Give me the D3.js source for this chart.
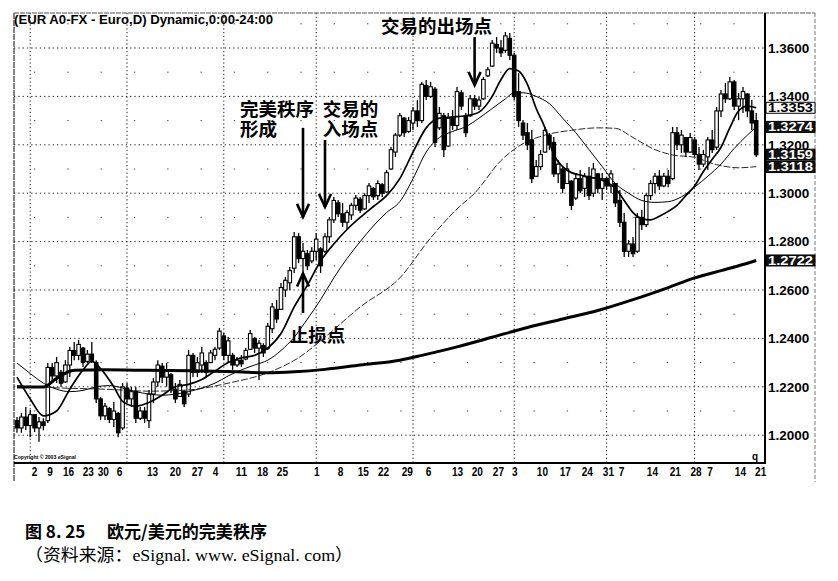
<!DOCTYPE html>
<html><head><meta charset="utf-8">
<script src="https://cdn.jsdelivr.net/npm/d3@7"></script>
<style>
body{margin:0;background:#fff;}
svg{display:block;}
</style></head>
<body>
<svg id="c" width="838" height="581"></svg>
<script>
// ---- daily EUR/USD bars (Jul 28 2004 .. Mar 18 2005) ----
const opens = [1.2060,1.2030,1.2075,1.2040,1.2085,1.2030,1.2055,1.2060,1.2280,1.2245,
1.2260,1.2220,1.2290,1.2350,1.2330,1.2360,1.2305,1.2335,1.2300,1.2150,
1.2080,1.2110,1.2065,1.2090,1.2030,1.2195,1.2150,1.2180,1.2070,1.2100,
1.2060,1.2170,1.2220,1.2285,1.2240,1.2250,1.2190,1.2160,1.2180,1.2170,
1.2330,1.2260,1.2290,1.2300,1.2300,1.2330,1.2360,1.2410,1.2330,1.2330,
1.2290,1.2310,1.2315,1.2355,1.2400,1.2360,1.2370,1.2360,1.2440,1.2520,
1.2520,1.2600,1.2630,1.2690,1.2820,1.2730,1.2750,1.2720,1.2760,1.2770,
1.2760,1.2820,1.2890,1.2960,1.2915,1.2880,1.2910,1.2950,1.2975,1.2935,
1.2990,1.3020,1.2990,1.3035,1.3005,1.3100,1.3170,1.3240,1.3310,1.3255,
1.3290,1.3340,1.3300,1.3445,1.3400,1.3430,1.3270,1.3320,1.3195,1.3310,
1.3280,1.3415,1.3320,1.3320,1.3390,1.3360,1.3390,1.3485,1.3525,1.3615,
1.3600,1.3590,1.3640,1.3570,1.3420,1.3290,1.3250,1.3220,1.3070,1.3110,
1.3170,1.3240,1.3210,1.3080,1.3100,1.3040,1.3050,1.2980,1.3060,1.3020,
1.3070,1.3000,1.3080,1.3020,1.3060,1.3030,1.3040,1.2970,1.2880,1.2760,
1.2790,1.2760,1.2900,1.2870,1.2990,1.3040,1.3070,1.3030,1.3070,1.3060,
1.3250,1.3200,1.3230,1.3170,1.3220,1.3160,1.3120,1.3150,1.3220,1.3190,
1.3340,1.3410,1.3390,1.3460,1.3360,1.3390,1.3410,1.3340,1.3300];
const highs = [1.2075,1.2092,1.2117,1.2104,1.2083,1.2075,1.2070,1.2298,1.2298,1.2323,
1.2270,1.2310,1.2364,1.2385,1.2393,1.2364,1.2352,1.2385,1.2310,1.2158,
1.2133,1.2117,1.2137,1.2096,1.2216,1.2216,1.2200,1.2200,1.2117,1.2117,
1.2187,1.2236,1.2310,1.2298,1.2298,1.2257,1.2216,1.2228,1.2187,1.2352,
1.2340,1.2323,1.2364,1.2310,1.2352,1.2364,1.2443,1.2422,1.2406,1.2340,
1.2323,1.2331,1.2360,1.2435,1.2406,1.2393,1.2380,1.2464,1.2546,1.2559,
1.2629,1.2653,1.2695,1.2840,1.2835,1.2794,1.2765,1.2777,1.2835,1.2777,
1.2835,1.2902,1.2984,1.2972,1.2960,1.2931,1.2960,1.2993,1.2984,1.3000,
1.3042,1.3025,1.3054,1.3042,1.3096,1.3191,1.3249,1.3331,1.3315,1.3315,
1.3356,1.3385,1.3460,1.3468,1.3460,1.3439,1.3356,1.3331,1.3331,1.3344,
1.3439,1.3426,1.3331,1.3406,1.3406,1.3398,1.3480,1.3521,1.3633,1.3645,
1.3633,1.3666,1.3662,1.3580,1.3497,1.3302,1.3290,1.3261,1.3137,1.3179,
1.3274,1.3249,1.3232,1.3137,1.3108,1.3125,1.3054,1.3083,1.3096,1.3083,
1.3108,1.3125,1.3083,1.3083,1.3067,1.3096,1.3042,1.3013,1.2918,1.2806,
1.2819,1.2918,1.2931,1.3000,1.3054,1.3083,1.3096,1.3083,1.3096,1.3274,
1.3274,1.3261,1.3232,1.3249,1.3232,1.3191,1.3179,1.3232,1.3261,1.3356,
1.3426,1.3455,1.3480,1.3468,1.3414,1.3439,1.3414,1.3385,1.3331];
const lows = [1.2010,1.2010,1.2021,1.1992,1.2013,1.1973,1.2020,1.2050,1.2228,1.2216,
1.2200,1.2216,1.2240,1.2310,1.2310,1.2282,1.2298,1.2298,1.2133,1.2063,
1.2063,1.2050,1.2034,1.1992,1.2021,1.2133,1.2117,1.2050,1.2063,1.2050,
1.2030,1.2133,1.2200,1.2216,1.2200,1.2174,1.2133,1.2158,1.2117,1.2158,
1.2240,1.2240,1.2257,1.2240,1.2298,1.2310,1.2352,1.2310,1.2298,1.2270,
1.2282,1.2282,1.2310,1.2352,1.2340,1.2228,1.2323,1.2352,1.2422,1.2464,
1.2517,1.2571,1.2600,1.2670,1.2711,1.2505,1.2682,1.2711,1.2724,1.2670,
1.2753,1.2794,1.2877,1.2902,1.2860,1.2848,1.2890,1.2931,1.2918,1.2931,
1.2960,1.2972,1.2972,1.2984,1.3000,1.3096,1.3150,1.3232,1.3232,1.3249,
1.3261,1.3274,1.3290,1.3385,1.3393,1.3191,1.3261,1.3150,1.3191,1.3261,
1.3261,1.3344,1.3232,1.3315,1.3344,1.3344,1.3385,1.3480,1.3521,1.3580,
1.3563,1.3580,1.3550,1.3385,1.3274,1.3220,1.3179,1.3042,1.3067,1.3096,
1.3166,1.3179,1.3067,1.3042,1.3000,1.3054,1.2931,1.2972,1.3000,1.2984,
1.2972,1.2984,1.3000,1.2972,1.3013,1.3000,1.2943,1.2860,1.2736,1.2736,
1.2736,1.2753,1.2848,1.2860,1.2972,1.3000,1.3013,1.3025,1.3025,1.3054,
1.3179,1.3166,1.3150,1.3166,1.3150,1.3096,1.3108,1.3096,1.3166,1.3179,
1.3315,1.3373,1.3385,1.3344,1.3302,1.3331,1.3315,1.3261,1.3150];
const closes = [1.2030,1.2075,1.2040,1.2085,1.2030,1.2055,1.2040,1.2280,1.2245,1.2300,
1.2215,1.2290,1.2350,1.2330,1.2375,1.2300,1.2335,1.2310,1.2150,1.2080,
1.2120,1.2065,1.2100,1.2010,1.2200,1.2150,1.2180,1.2070,1.2100,1.2070,
1.2170,1.2220,1.2290,1.2240,1.2270,1.2190,1.2150,1.2210,1.2130,1.2330,
1.2260,1.2300,1.2340,1.2260,1.2340,1.2355,1.2430,1.2330,1.2390,1.2290,
1.2310,1.2295,1.2350,1.2420,1.2360,1.2380,1.2340,1.2450,1.2530,1.2480,
1.2610,1.2640,1.2680,1.2820,1.2730,1.2760,1.2700,1.2760,1.2810,1.2700,
1.2820,1.2890,1.2970,1.2915,1.2880,1.2920,1.2950,1.2980,1.2930,1.2990,
1.3030,1.2985,1.3040,1.3000,1.3085,1.3180,1.3240,1.3320,1.3250,1.3300,
1.3340,1.3300,1.3450,1.3400,1.3440,1.3210,1.3330,1.3180,1.3310,1.3280,
1.3420,1.3360,1.3250,1.3390,1.3360,1.3385,1.3470,1.3510,1.3620,1.3600,
1.3580,1.3650,1.3570,1.3400,1.3300,1.3240,1.3200,1.3060,1.3110,1.3160,
1.3260,1.3200,1.3080,1.3120,1.3020,1.3100,1.2950,1.3060,1.3010,1.3070,
1.2990,1.3100,1.3020,1.3060,1.3030,1.3080,1.2960,1.2880,1.2760,1.2790,
1.2750,1.2900,1.2870,1.2990,1.3040,1.3070,1.3030,1.3070,1.3040,1.3250,
1.3200,1.3240,1.3170,1.3230,1.3160,1.3120,1.3160,1.3220,1.3180,1.3340,
1.3410,1.3390,1.3460,1.3360,1.3390,1.3420,1.3340,1.3290,1.3159];

// ---- moving averages: [bar index, value] ----
const ma10 = [[0,1.2240],[3,1.2150],[6,1.2080],[9,1.2100],[12,1.2190],[15,1.2270],[17,1.2305],[19,1.2275],[22,1.2200],[24,1.2140],[27,1.2120],[30,1.2135],[33,1.2165],[36,1.2200],[39,1.2210],[42,1.2230],[45,1.2265],[48,1.2300],[51,1.2320],[54,1.2330],[57,1.2360],[60,1.2420],[63,1.2530],[66,1.2620],[69,1.2720],[72,1.2790],[75,1.2850],[78,1.2900],[81,1.2945],[84,1.2990],[87,1.3060],[90,1.3170],[93,1.3270],[96,1.3310],[99,1.3315],[102,1.3320],[105,1.3335],[108,1.3400],[110,1.3470],[112,1.3515],[114,1.3505],[116,1.3450],[118,1.3350],[120,1.3270],[122,1.3160],[124,1.3110],[126,1.3085],[128,1.3075],[130,1.3065],[132,1.3060],[134,1.3045],[136,1.3020],[138,1.2970],[140,1.2920],[142,1.2895],[144,1.2890],[146,1.2905],[148,1.2925],[150,1.2950],[152,1.2990],[154,1.3030],[156,1.3090],[158,1.3140],[160,1.3190],[162,1.3270],[164,1.3340],[166,1.3360],[168,1.3353]];
const ma20 = [[0,1.2298],[3,1.2255],[6,1.2215],[9,1.2190],[12,1.2180],[15,1.2185],[18,1.2200],[21,1.2205],[24,1.2195],[27,1.2180],[30,1.2170],[33,1.2165],[36,1.2170],[39,1.2180],[42,1.2195],[45,1.2215],[48,1.2245],[51,1.2270],[54,1.2290],[57,1.2310],[60,1.2350],[63,1.2405],[66,1.2480],[69,1.2560],[72,1.2650],[75,1.2730],[78,1.2800],[81,1.2865],[84,1.2920],[87,1.2965],[90,1.3060],[93,1.3170],[96,1.3230],[99,1.3255],[102,1.3275],[105,1.3310],[108,1.3350],[111,1.3390],[113,1.3415],[115,1.3415],[118,1.3400],[121,1.3370],[124,1.3310],[127,1.3250],[130,1.3180],[133,1.3110],[136,1.3040],[139,1.3000],[142,1.2970],[145,1.2962],[148,1.2965],[151,1.2985],[154,1.3025],[157,1.3070],[160,1.3120],[163,1.3185],[166,1.3240],[168,1.3274]];
const ma50 = [[0,1.2205],[10,1.2195],[20,1.2190],[30,1.2182],[39,1.2187],[48,1.2215],[58,1.2265],[64,1.2320],[70,1.2405],[78,1.2530],[87,1.2650],[94,1.2815],[100,1.2935],[104,1.3000],[110,1.3135],[115,1.3205],[120,1.3240],[126,1.3260],[132,1.3270],[136,1.3268],[140,1.3230],[145,1.3180],[149,1.3158],[154,1.3148],[159,1.3118],[164,1.3105],[168,1.3110]];
const ma200 = [[0,1.2199],[6,1.2199],[9,1.2235],[13,1.2268],[20,1.2270],[30,1.2268],[40,1.2266],[50,1.2262],[57,1.2258],[63,1.2262],[70,1.2272],[78,1.2290],[87,1.2310],[92,1.2330],[100,1.2365],[108,1.2405],[116,1.2445],[124,1.2480],[132,1.2515],[140,1.2560],[148,1.2610],[154,1.2650],[160,1.2680],[164,1.2700],[168,1.2722]];

// ---- axis labels ----
const xTickLabels = ["2","9","16","23","30","6","13","20","27","4","11","18","25","1","8","15","22","29","6","13","20","27","3","10","17","24","31","7","14","21","28","7","14","21"];
const xTickIdx = [3.9,7.4,11.6,16.1,19.5,23.2,30.7,35.9,40.9,45,50.9,55.7,60.2,68,73.4,78.6,83.2,88.6,93.4,100,104.5,109.3,113,119.3,124.5,129.5,134.3,137.3,144.3,149.5,154.2,157.4,164.3,168.9];
const monthStartIdx = [3,25,47,68,90,113,134,154];
const yTicks = [1.20,1.22,1.24,1.26,1.28,1.30,1.32,1.34,1.36];
const yMinor = [1.21,1.23,1.25,1.27,1.29,1.31,1.33,1.35,1.37];
const valueBoxes = [["1.3353",1.3353,false],["1.3274",1.3274,true],["1.3159",1.3159,true],["1.3118",1.3108,true],["1.2722",1.2722,true]];
const title = "(EUR A0-FX - Euro,D) Dynamic,0:00-24:00";
// annotations: [text, bar index, price]
const notes = [["交易的出场点",82.7,1.3662],["完美秩序",50.7,1.3318],["形成",50.7,1.3235],["交易的",69.5,1.3318],["入场点",69.5,1.3235],["止损点",62,1.2385]];
// arrows: [bar index, from price, to price]
const arrows = [[104,1.3645,1.3447],[65,1.3270,1.2902],[70,1.3220,1.2943],[65,1.2505,1.2668]];

const svg = d3.select("#c");
const L = 14, R = 765, T = 13, B = 463;
const x = d3.scaleLinear().domain([0,168]).range([17,756.2]);
const y = d3.scaleLinear().domain([1.20,1.36]).range([435.2,48]);

// grid
const g = svg.append("g");
g.selectAll(".hg").data(yTicks).join("line")
  .attr("x1",L).attr("x2",R).attr("y1",d=>y(d)).attr("y2",d=>y(d))
  .attr("stroke","#222").attr("stroke-width",1).attr("stroke-dasharray","1.3,3");
g.selectAll(".hm").data(yMinor.filter(v=>y(v)>T)).join("line")
  .attr("x1",L+20).attr("x2",R).attr("y1",d=>y(d)).attr("y2",d=>y(d))
  .attr("stroke","#444").attr("stroke-width",1).attr("stroke-dasharray","1.3,32");
g.selectAll(".vg").data(monthStartIdx).join("line")
  .attr("x1",d=>x(d)).attr("x2",d=>x(d)).attr("y1",T).attr("y2",B)
  .attr("stroke","#222").attr("stroke-width",1).attr("stroke-dasharray","1.3,2.5");

// frame
svg.append("line").attr("x1",L).attr("x2",815).attr("y1",T).attr("y2",T).attr("stroke","#555").attr("stroke-width",1).attr("stroke-dasharray","5,1");
svg.append("line").attr("x1",L).attr("x2",L).attr("y1",T).attr("y2",482).attr("stroke","#333").attr("stroke-width",1.2).attr("stroke-dasharray","6,1");
svg.append("line").attr("x1",815).attr("x2",815).attr("y1",T).attr("y2",482).attr("stroke","#777").attr("stroke-width",1).attr("stroke-dasharray","4,2");

// candles
const bars = d3.range(opens.length).map(i=>({i,o:opens[i],h:highs[i],l:lows[i],c:closes[i]}));
const cg = svg.append("g");
cg.selectAll(".w").data(bars).join("line")
  .attr("x1",d=>x(d.i)).attr("x2",d=>x(d.i)).attr("y1",d=>y(d.h)).attr("y2",d=>y(d.l))
  .attr("stroke","#000").attr("stroke-width",1.3);
cg.selectAll(".b").data(bars).join("rect")
  .attr("x",d=>x(d.i)-1.75).attr("width",3.5)
  .attr("y",d=>y(Math.max(d.o,d.c)))
  .attr("height",d=>Math.max(1,Math.abs(y(d.o)-y(d.c))))
  .attr("fill",d=>d.c>=d.o?"#fff":"#000").attr("stroke","#000").attr("stroke-width",1.1);

// moving averages
const line = d3.line().x(d=>x(d[0])).y(d=>y(d[1])).curve(d3.curveMonotoneX);
svg.append("path").attr("d",line(ma200)).attr("fill","none").attr("stroke","#000").attr("stroke-width",3);
svg.append("path").attr("d",line(ma50)).attr("fill","none").attr("stroke","#111").attr("stroke-width",0.9).attr("stroke-dasharray","7,2");
svg.append("path").attr("d",line(ma20)).attr("fill","none").attr("stroke","#000").attr("stroke-width",1);
svg.append("path").attr("d",line(ma10)).attr("fill","none").attr("stroke","#000").attr("stroke-width",1.7);

// axes lines
svg.append("line").attr("x1",L).attr("x2",R+1).attr("y1",B).attr("y2",B).attr("stroke","#000").attr("stroke-width",2);
svg.append("line").attr("x1",R).attr("x2",R).attr("y1",T).attr("y2",B).attr("stroke","#000").attr("stroke-width",2);

// x axis labels
const xa = d3.axisBottom(x).tickValues(xTickIdx).tickSize(0).tickPadding(4)
  .tickFormat((d,k)=>xTickLabels[k]);
const xg = svg.append("g").attr("transform",`translate(0,${B})`).call(xa);
xg.select(".domain").remove();
xg.selectAll("text").attr("font-family","'Liberation Sans',Arial,sans-serif").attr("font-weight","bold").attr("font-size",12.5).attr("fill","#000")
  .attr("textLength",function(){return this.textContent.length*5.6;}).attr("lengthAdjust","spacingAndGlyphs");

// y axis labels
const ya = d3.axisRight(y).tickValues(yTicks).tickSize(0).tickPadding(3).tickFormat(d3.format(".4f"));
const yg = svg.append("g").attr("transform",`translate(${R},0)`).call(ya);
yg.select(".domain").remove();
yg.selectAll("text").attr("font-family","'Liberation Sans',Arial,sans-serif").attr("font-weight","bold").attr("font-size",13.5).attr("fill","#000");

// value boxes
const vb = svg.append("g").selectAll("g").data(valueBoxes).join("g").attr("transform",d=>`translate(${R+1},${y(d[1])})`);
vb.append("rect").attr("x",0).attr("y",-5.5).attr("width",49).attr("height",11)
  .attr("fill",d=>d[2]?"#111":"#fff").attr("stroke","#000").attr("stroke-width",1);
vb.append("text").attr("x",2).attr("y",4.2).text(d=>d[0])
  .attr("font-family","'Liberation Sans',Arial,sans-serif").attr("font-weight","bold").attr("font-size",12)
  .attr("textLength",45).attr("lengthAdjust","spacingAndGlyphs")
  .attr("fill",d=>d[2]?"#fff":"#000");

// title
svg.append("text").attr("x",14).attr("y",24).text(title)
  .attr("font-family","'Liberation Sans',Arial,sans-serif").attr("font-weight","bold").attr("font-size",12.5)
  .attr("textLength",259).attr("lengthAdjust","spacingAndGlyphs");
svg.append("text").attr("x",14).attr("y",459).text("Copyright © 2003 eSignal")
  .attr("font-family","'Liberation Sans',Arial,sans-serif").attr("font-weight","bold").attr("font-size",5)
  .attr("textLength",62).attr("lengthAdjust","spacingAndGlyphs");
svg.append("text").attr("x",752).attr("y",460).text("q")
  .attr("font-family","'Liberation Sans',Arial,sans-serif").attr("font-weight","bold").attr("font-size",10);

// annotations
svg.append("g").selectAll("text").data(notes).join("text")
  .attr("x",d=>x(d[1])).attr("y",d=>y(d[2])).text(d=>d[0])
  .attr("font-family","'Noto Sans CJK SC',sans-serif").attr("font-weight",700).attr("font-size",18.5).attr("fill","#000");
const ag = svg.append("g").attr("stroke","#000").attr("fill","none").attr("stroke-width",2.6);
arrows.forEach(a=>{
  const ax = x(a[0]), y0 = y(a[1]), y1 = y(a[2]);
  const dir = y1>y0?1:-1;
  ag.append("line").attr("x1",ax).attr("x2",ax).attr("y1",y0).attr("y2",y1);
  ag.append("path").attr("d",`M${ax-6},${y1-dir*13}L${ax},${y1}L${ax+6},${y1-dir*13}`);
});

// caption
svg.append("text").attr("x",25).attr("y",538).text("图 8. 25")
  .attr("font-family","'Noto Sans CJK SC',sans-serif").attr("font-weight",700).attr("font-size",17);
svg.append("text").attr("x",107).attr("y",538).text("欧元/美元的完美秩序")
  .attr("font-family","'Noto Sans CJK SC',sans-serif").attr("font-weight",700).attr("font-size",17)
  .attr("textLength",160).attr("lengthAdjust","spacingAndGlyphs");
svg.append("text").attr("x",25).attr("y",561).text("（资料来源：eSignal. www. eSignal. com）")
  .attr("font-family","'Liberation Serif','Noto Sans CJK SC',serif").attr("font-size",17)
  .attr("textLength",328).attr("lengthAdjust","spacingAndGlyphs");
</script>
</body></html>
